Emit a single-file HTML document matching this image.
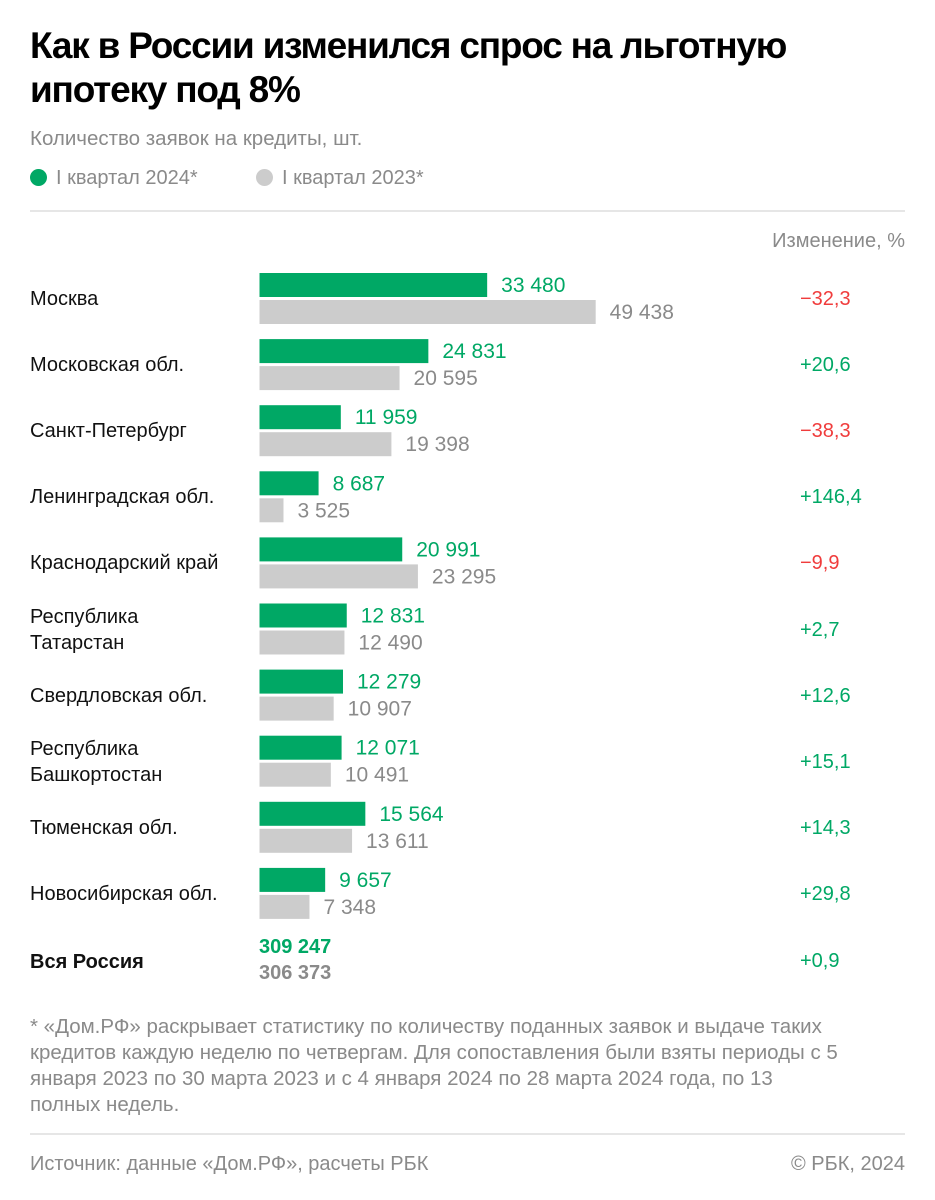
<!DOCTYPE html>
<html><head><meta charset="utf-8">
<style>
body{margin:0;background:#fff;width:935px;height:1200px;position:relative;overflow:hidden;font-family:"Liberation Sans","DejaVu Sans",sans-serif;}
.abs{position:absolute;white-space:nowrap;}
h1{position:absolute;left:30px;top:24px;margin:0;font-size:37px;line-height:44px;font-weight:bold;letter-spacing:-1.2px;color:#000;}
.sub{left:30px;top:127px;font-size:20.5px;color:#8a8a8a;}
.leg{top:167px;font-size:20px;color:#8a8a8a;}
.dot{display:inline-block;width:17px;height:17px;border-radius:50%;vertical-align:-2px;margin-right:9px;}
.hr{position:absolute;left:30px;width:875px;height:2px;background:#e6e6e6;}
.lab{left:30px;font-size:20px;color:#111;line-height:26px;}
.chg{left:800px;font-size:20px;}
.foot{left:30px;top:1014px;width:890px;font-size:20.5px;line-height:26px;color:#8a8a8a;white-space:nowrap;}
</style></head><body>
<h1>Как в России изменился спрос на льготную<br>ипотеку под 8%</h1>
<div class="abs sub">Количество заявок на кредиты, шт.</div>
<div class="abs leg" style="left:30px"><span class="dot" style="background:#00a865"></span>I квартал 2024*</div>
<div class="abs leg" style="left:256px"><span class="dot" style="background:#cccccc"></span>I квартал 2023*</div>
<div class="hr" style="top:210px"></div>
<div class="abs" style="right:30px;top:230px;font-size:20px;color:#8a8a8a">Изменение, %</div>
<svg id="chart" width="935" height="1200" style="position:absolute;left:0;top:0"></svg>
<div id="labels"></div>
<div class="abs lab" style="top:949px;font-weight:bold">Вся Россия</div>
<div class="abs" style="left:259px;top:936px;font-size:20px;font-weight:bold;color:#00a865">309 247</div>
<div class="abs" style="left:259px;top:962px;font-size:20px;font-weight:bold;color:#8a8a8a">306 373</div>
<div class="abs chg" style="top:950px;color:#00a865">+0,9</div>
<div class="abs foot">* «Дом.РФ» раскрывает статистику по количеству поданных заявок и выдаче таких<br>кредитов каждую неделю по четвергам. Для сопоставления были взяты периоды с 5<br>января 2023 по 30 марта 2023 и с 4 января 2024 по 28 марта 2024 года, по 13<br>полных недель.</div>
<div class="hr" style="top:1133px"></div>
<div class="abs" style="left:30px;top:1153px;font-size:20px;color:#8a8a8a">Источник: данные «Дом.РФ», расчеты РБК</div>
<div class="abs" style="right:30px;top:1153px;font-size:20px;color:#8a8a8a">© РБК, 2024</div>
<script>
const regions=["Москва","Московская обл.","Санкт-Петербург","Ленинградская обл.","Краснодарский край","Республика<br>Татарстан","Свердловская обл.","Республика<br>Башкортостан","Тюменская обл.","Новосибирская обл."];
const values2024=[33480,24831,11959,8687,20991,12831,12279,12071,15564,9657];
const values2023=[49438,20595,19398,3525,23295,12490,10907,10491,13611,7348];
const changes=[-32.3,20.6,-38.3,146.4,-9.9,2.7,12.6,15.1,14.3,29.8];
const x0=259.5, scale=0.0068, rowTop=273, pitch=66.1, barH=24;
function xw(v){return v*scale;}
function rowY(i){return rowTop+i*pitch;}
function fmt(v){return String(v).replace(/\B(?=(\d{3})+(?!\d))/g,"\u00a0");}
function fmtC(c){return (c>0?"+":"\u2212")+Math.abs(c).toFixed(1).replace(".",",");}
const svg=document.getElementById("chart"),NS="http://www.w3.org/2000/svg",L=document.getElementById("labels");
regions.forEach((r,i)=>{
  const y=rowY(i);
  [[values2024[i],y,"#00a865","#00a865"],[values2023[i],y+27,"#cccccc","#8a8a8a"]].forEach((s,k)=>{
    const b=document.createElementNS(NS,"rect");
    b.setAttribute("x",x0);b.setAttribute("y",s[1]);b.setAttribute("width",xw(s[0]));b.setAttribute("height",barH);b.setAttribute("fill",s[2]);
    
    
    svg.appendChild(b);
    const t=document.createElementNS(NS,"text");
    t.setAttribute("x",x0+xw(s[0])+14);t.setAttribute("y",s[1]+19);t.setAttribute("fill",s[3]);
    t.setAttribute("font-size","21");t.setAttribute("font-family","Liberation Sans, sans-serif");
    t.textContent=fmt(s[0]);
    
    
    svg.appendChild(t);
  });
  const two=r.includes("<br>");
  const d=document.createElement("div");
  d.className="abs lab";d.style.top=(two?y:y+13)+"px";d.innerHTML=r;
  
  
  L.appendChild(d);
  const c=document.createElement("div");
  c.className="abs chg";c.style.top=(y+15)+"px";c.style.color=changes[i]<0?"#f03c3c":"#00a865";c.textContent=fmtC(changes[i]);
  
  
  L.appendChild(c);
});
</script>
</body></html>
